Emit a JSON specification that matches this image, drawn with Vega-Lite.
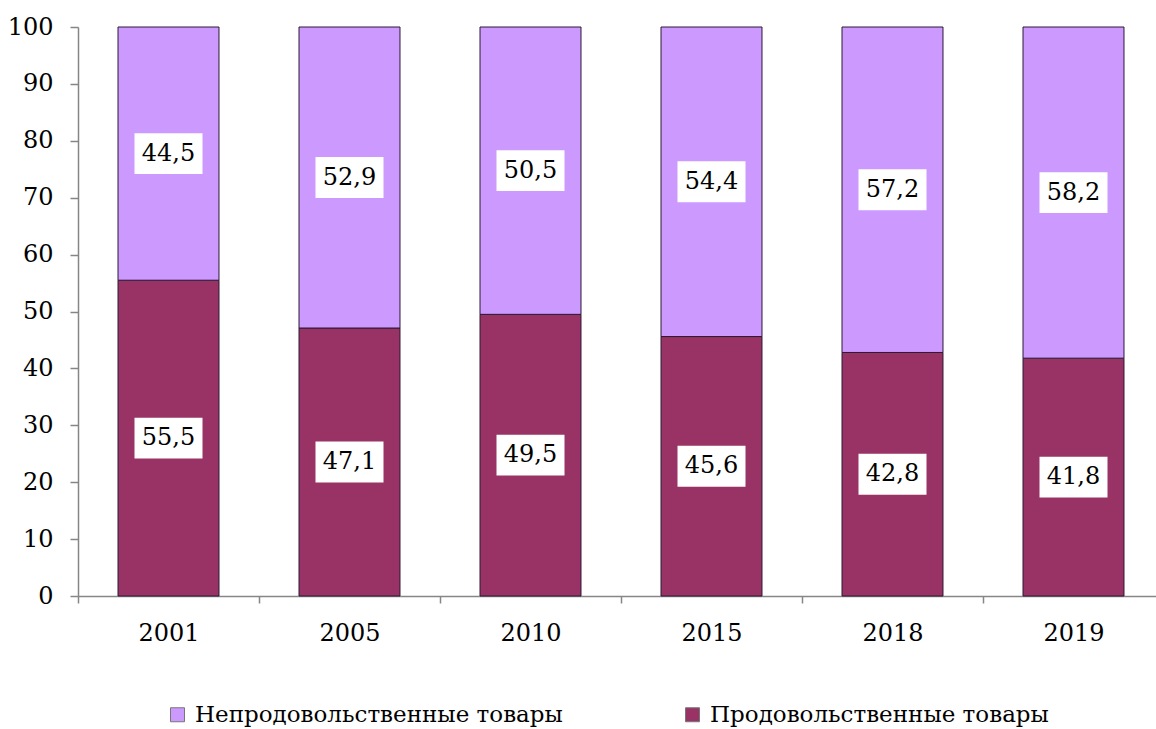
{
  "$schema": "https://vega.github.io/schema/vega-lite/v6.json",
  "autosize": {"type": "none"},
  "width": 1078,
  "height": 569,
  "padding": {"left": 78, "top": 27, "right": 0, "bottom": 133},
  "background": "white",
  "config": {
    "font": "DejaVu Serif",
    "view": {"stroke": null}
  },
  "data": {
    "values": [
      {"year": "2001", "cat": "Продовольственные товары", "ord": 1, "value": 55.5, "label": "55,5"},
      {"year": "2001", "cat": "Непродовольственные товары", "ord": 2, "value": 44.5, "label": "44,5"},
      {"year": "2005", "cat": "Продовольственные товары", "ord": 1, "value": 47.1, "label": "47,1"},
      {"year": "2005", "cat": "Непродовольственные товары", "ord": 2, "value": 52.9, "label": "52,9"},
      {"year": "2010", "cat": "Продовольственные товары", "ord": 1, "value": 49.5, "label": "49,5"},
      {"year": "2010", "cat": "Непродовольственные товары", "ord": 2, "value": 50.5, "label": "50,5"},
      {"year": "2015", "cat": "Продовольственные товары", "ord": 1, "value": 45.6, "label": "45,6"},
      {"year": "2015", "cat": "Непродовольственные товары", "ord": 2, "value": 54.4, "label": "54,4"},
      {"year": "2018", "cat": "Продовольственные товары", "ord": 1, "value": 42.8, "label": "42,8"},
      {"year": "2018", "cat": "Непродовольственные товары", "ord": 2, "value": 57.2, "label": "57,2"},
      {"year": "2019", "cat": "Продовольственные товары", "ord": 1, "value": 41.8, "label": "41,8"},
      {"year": "2019", "cat": "Непродовольственные товары", "ord": 2, "value": 58.2, "label": "58,2"}
    ]
  },
  "encoding": {
    "x": {
      "field": "year",
      "type": "nominal",
      "sort": null,
      "scale": {"range": [0, 1086], "paddingInner": 0, "paddingOuter": 0},
      "axis": {
        "title": null,
        "labelAngle": 0,
        "labelFont": "DejaVu Serif",
        "labelFontSize": 24,
        "labelColor": "black",
        "labelPadding": 18,
        "tickBand": "extent",
        "tickSize": 7,
        "tickColor": "#868686",
        "tickWidth": 1.5,
        "domainColor": "#868686",
        "domainWidth": 1.5
      }
    },
    "order": {"field": "ord", "type": "quantitative"}
  },
  "layer": [
    {
      "mark": {"type": "bar", "stroke": "#2b1a33", "strokeWidth": 1, "width": {"band": 0.558}},
      "encoding": {
        "y": {
          "field": "value",
          "type": "quantitative",
          "stack": "zero",
          "scale": {"domain": [0, 100], "nice": false},
          "axis": {
            "title": null,
            "values": [0, 10, 20, 30, 40, 50, 60, 70, 80, 90, 100],
            "grid": false,
            "labelFont": "DejaVu Serif",
            "labelFontSize": 24,
            "labelColor": "black",
            "labelPadding": 17,
            "tickSize": 8,
            "tickColor": "#868686",
            "tickWidth": 1.5,
            "domainColor": "#868686",
            "domainWidth": 1.5
          }
        },
        "color": {
          "field": "cat",
          "type": "nominal",
          "scale": {
            "domain": ["Непродовольственные товары", "Продовольственные товары"],
            "range": ["#CC99FF", "#993366"]
          },
          "legend": {
            "title": null,
            "orient": "none",
            "direction": "horizontal",
            "legendX": 88,
            "legendY": 676,
            "symbolType": "square",
            "symbolSize": 196,
            "symbolStrokeColor": "#777777",
            "symbolStrokeWidth": 1,
            "labelFont": "DejaVu Serif",
            "labelFontSize": 23,
            "labelColor": "black",
            "labelOffset": 6,
            "labelLimit": 0,
            "columnPadding": 118
          }
        }
      }
    },
    {
      "mark": {"type": "point", "shape": "M-1,-0.6H1V0.6H-1Z", "filled": true, "fill": "white", "opacity": 1, "strokeWidth": 0, "size": 4624},
      "encoding": {
        "y": {"field": "value", "type": "quantitative", "stack": "zero", "bandPosition": 0.5}
      }
    },
    {
      "mark": {"type": "text", "font": "DejaVu Serif", "fontSize": 24, "color": "black", "baseline": "middle", "align": "center"},
      "encoding": {
        "y": {"field": "value", "type": "quantitative", "stack": "zero", "bandPosition": 0.5},
        "text": {"field": "label", "type": "nominal"}
      }
    }
  ]
}
